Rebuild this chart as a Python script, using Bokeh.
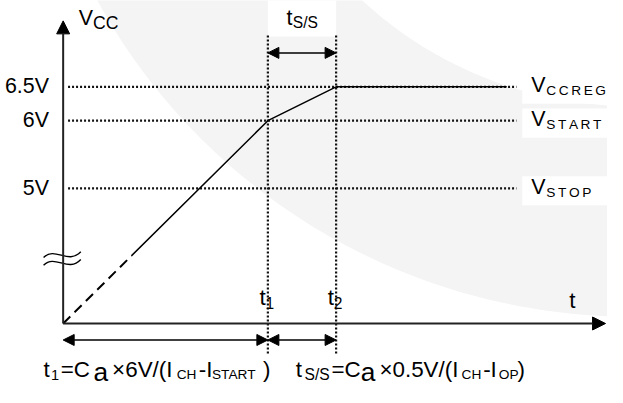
import numpy as np
from bokeh.plotting import figure
from bokeh.models import Range1d, Arrow, NormalHead, ColumnDataSource
from bokeh.core.properties import value
from bokeh.embed import file_html
from bokeh.resources import INLINE

# ---------------- data ----------------
levels = [6.5, 6.0, 5.0]                 # V
level_ticks = ["6.5V", "6V", "5V"]
level_names = ["CCREG", "START", "STOP"]
t_marks = [3.0, 4.0]                      # t1, t2
t_names = ["1", "2"]
curve_t = [0.0, 1.0, 3.0, 4.0, 6.5]
curve_v = [3.0, 4.0, 6.0, 6.5, 6.5]
v_base = 3.0                              # value drawn at the broken origin
y_title = ("V", "CC")
x_title = "t"
tss_label = ("t", "S/S")
formula1 = ["t", "1", "=C", "a", "\u00d76V/(I", "CH", "-I", "START", ")"]
formula2 = ["t", "S/S", "=C", "a", "\u00d70.5V/(I", "CH", "-I", "OP", ")"]

# ---------------- layout helpers ----------------
K = 69.7            # reference px per unit (both axes)
OX, OY = 68, 339    # reference pixel of the origin
W, H = 607, 387
FS = 0.975          # font scale (view window slightly compressed)
MID = 0.35          # baseline -> middle of text, in em
FONT = "Liberation Sans"

def X(px):
    return (px - OX) / K

def Y(py):
    return v_base + (OY - py) / K

def PX(t):
    return OX + t * K

def PY(v):
    return OY - (v - v_base) * K

ARIAL = {'A': 667, 'B': 667, 'C': 722, 'D': 722, 'E': 667, 'G': 778, 'H': 722,
         'I': 278, 'O': 778, 'P': 667, 'R': 722, 'S': 667, 'T': 611, 'V': 667}

p = figure(width=W, height=H, x_range=Range1d(X(4), X(624)),
           y_range=Range1d(Y(405), Y(6)), toolbar_location=None,
           output_backend="svg", min_border=0, x_axis_location=None,
           y_axis_location=None)
p.grid.visible = False
p.outline_line_color = None
p.background_fill_color = "white"
p.border_fill_color = "white"

# background watermark (light grey ring)
cx, cy = X(650), Y(-290)
r_in, r_out = 405 / K, 622 / K
th = np.linspace(np.pi * 0.95, np.pi * 1.8, 200)
ring_x = np.concatenate([cx + r_out * np.cos(th), (cx + r_in * np.cos(th))[::-1]])
ring_y = np.concatenate([cy + r_out * np.sin(th), (cy + r_in * np.sin(th))[::-1]])
p.patch(ring_x, ring_y, fill_color="#f4f4f4", line_color=None)

# white label boxes
p.quad(left=[t_marks[0]], right=[t_marks[1]], bottom=[Y(43)], top=[Y(0)],
       fill_color="white", line_color=None)
p.quad(left=[X(537)] * 3, right=[X(640)] * 3,
       bottom=[lv - 17.5 / K for lv in levels], top=[lv + 12.5 / K for lv in levels],
       fill_color="white", line_color=None)

# dotted reference lines
p.segment(x0=[X(73)] * 3, y0=levels, x1=[X(531)] * 3, y1=levels,
          line_color="#111111", line_width=2.2, line_dash="2 2")
p.segment(x0=t_marks, y0=[Y(42)] * 2, x1=t_marks, y1=[Y(372)] * 2,
          line_color="#111111", line_width=2.2, line_dash="2 2")

# Vcc curve
p.line(curve_t[:2], curve_v[:2], line_color="black", line_width=2, line_dash="10 6")
p.line(curve_t[1:], curve_v[1:], line_color="black", line_width=1.5)

# axes
p.add_layout(Arrow(end=NormalHead(size=13, fill_color="black", line_color="black", line_width=1),
                   x_start=0.0, y_start=v_base, x_end=0.0, y_end=Y(27),
                   line_color="#222", line_width=2))
p.add_layout(Arrow(end=NormalHead(size=13, fill_color="black", line_color="black", line_width=1),
                   x_start=0.0, y_start=v_base, x_end=X(622), y_end=v_base,
                   line_color="#222", line_width=2))

# break symbol on the y axis
for c in (0, 8):
    p.bezier(x0=[X(48)], y0=[Y(271 + c)], x1=[X(86)], y1=[Y(265 + c)],
             cx0=[X(60)], cy0=[Y(259 + c)], cx1=[X(73)], cy1=[Y(279 + c)],
             line_color="black", line_width=1.4)

# time-span arrows
def dbl(xa, xb, yv):
    p.add_layout(Arrow(start=NormalHead(size=11, fill_color="black", line_color="black", line_width=1),
                       end=NormalHead(size=11, fill_color="black", line_color="black", line_width=1),
                       x_start=xa, y_start=yv, x_end=xb, y_end=yv,
                       line_color="black", line_width=1.5))

dbl(t_marks[0], t_marks[1], Y(60))
dbl(0.0, t_marks[0], Y(356))
dbl(t_marks[0], t_marks[1], Y(356))

# ---------------- texts ----------------
T = dict(x=[], y=[], text=[], size=[])

def put(px, py, s, size):
    # py is the reference baseline; the glyph is anchored at its middle
    T["x"].append(X(px)); T["y"].append(Y(py - MID * size)); T["text"].append(s)
    T["size"].append(f"{size * FS:.1f}px")

def put_spaced(px, py, s, size, spacing):
    for ch in s:
        put(px, py, ch, size)
        px += ARIAL[ch] / 1000 * size + spacing

# right level labels
for lv, name in zip(levels, level_names):
    b = PY(lv)
    put(546, b + 6, "V", 22)
    put_spaced(561.5, b + 9, name, 14, 2.6)

# axis titles
put(84, 32, y_title[0], 22)
put(98.5, 36, y_title[1], 18)
put(585, 323, x_title, 23)

# t_S/S box label
put(296, 32, tss_label[0], 22)
put(302.5, 34, tss_label[1], 16)

# t1, t2
for tm, nm in zip(t_marks, t_names):
    px = PX(tm)
    put(px - 8.5, 320, "t", 23)
    put(px - 2.4, 323, nm, 16)

# formulas
FB = 395
f1_x = [48, 55.5, 65.5, 99, 118, 184, 206.5, 220, 272]
f2_x = [305.5, 314.5, 342, 372, 391, 475, 497, 513, 532]
f1_size = [23, 15, 23, 27, 23, 14, 23, 14, 23]
f2_size = [23, 16, 23, 27, 23, 14, 23, 14, 23]
f_dy = [0, 2, 0, 3, 0, 2, 0, 2, 0]
for s, px, sz, d in zip(formula1, f1_x, f1_size, f_dy):
    put(px, FB + d, s, sz)
for s, px, sz, d in zip(formula2, f2_x, f2_size, f_dy):
    put(px, FB + d, s, sz)

p.text(x="x", y="y", text="text", source=ColumnDataSource(T),
       text_font=value(FONT), text_font_size="size", text_align="left",
       text_baseline="middle", text_color="black")

tick_src = ColumnDataSource(dict(x=[X(53.5)] * 3,
                                 y=[lv - (7 - MID * 22) / K for lv in levels],
                                 text=level_ticks))
p.text(x="x", y="y", text="text", source=tick_src, text_font=value(FONT),
       text_font_size=f"{22 * FS:.1f}px", text_align="right", text_baseline="middle",
       text_color="black")

open("out.html", "w").write(file_html(p, INLINE))
